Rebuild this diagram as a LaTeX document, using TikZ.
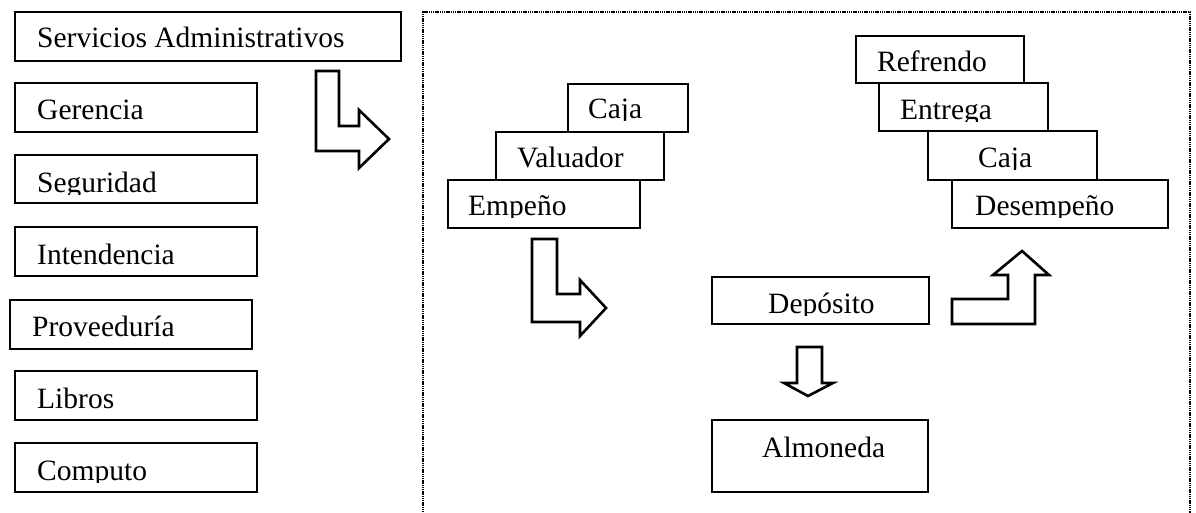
\documentclass[tikz,border=0pt]{standalone}
\usepackage{fontspec}
\setmainfont{Liberation Serif}
\usetikzlibrary{fit}

% box with its label cut off just below the baseline
\newcommand{\cajatexto}[8]{%
    \node[caja, fit={(#2,#3) (#4,#5)}] (#1) {};
    \begin{scope}
        \clip (#2,#3) rectangle ({#4},{#7+2});
        \node[rotulo] at (#6,#7) {#8};
    \end{scope}
}

\begin{document}
\begin{tikzpicture}[x=1pt, y=-1pt,
        caja/.style={draw, fill=white, line width=2.6pt, inner sep=0pt, outer sep=0pt},
        rotulo/.style={anchor=base west, inner sep=0pt, font=\fontsize{29.5}{30}\selectfont},
        flecha/.style={draw, line width=2.6pt, line join=miter},
        marco/.style={line width=2pt, dash pattern=on 1.4pt off 0.8pt}]
    \useasboundingbox (0,0) rectangle (1196,513);

    % left column
    \cajatexto{serv}{15}{12}{401}{61}{37}{48}{Servicios Administrativos}
    \cajatexto{ger}{15}{83}{257}{132}{37}{120}{Gerencia}
    \cajatexto{seg}{15}{155}{257}{203}{37}{193}{Seguridad}
    \cajatexto{inten}{15}{227}{257}{276}{37}{264}{Intendencia}
    \cajatexto{prov}{10}{300}{252}{349}{32}{336}{Proveeduría}
    \cajatexto{lib}{15}{371}{257}{420}{37}{408}{Libros}
    \cajatexto{comp}{15}{443}{257}{492}{37}{480}{Computo}

    \path[flecha] (316,71) -- (339,71) -- (339,126) -- (359,126) -- (359,110) -- (389,139)
        -- (359,168) -- (359,151) -- (316,151) -- cycle;

    % dotted frame, open at the bottom
    \draw[marco] (423,530) -- (423,12) -- (1190,12) -- (1190,530);

    % empeño
    \cajatexto{cajaA}{568}{84}{688}{132}{588}{119}{Caja}
    \cajatexto{valuador}{496}{132}{664}{180}{517}{168}{Valuador}
    \cajatexto{empeno}{448}{180}{640}{228}{468}{215}{Empeño}

    % desempeño
    \cajatexto{refrendo}{856}{36}{1024}{83}{877}{72}{Refrendo}
    \cajatexto{entrega}{879}{83}{1048}{131}{900}{120}{Entrega}
    \cajatexto{cajaB}{928}{131}{1097}{180}{978}{168}{Caja}
    \cajatexto{desempeno}{952}{180}{1168}{228}{975}{215}{Desempeño}

    \path[flecha] (532,239) -- (557,239) -- (557,294) -- (580,294) -- (580,280) -- (606,308)
        -- (580,336) -- (580,322) -- (532,322) -- cycle;

    \cajatexto{deposito}{712}{277}{929}{324}{768}{313}{Depósito}
    \path[flecha] (797,347) -- (822,347) -- (822,383) -- (833,383) -- (808,396) -- (784,383)
        -- (797,383) -- cycle;
    \cajatexto{almoneda}{712}{420}{928}{492}{762}{457}{Almoneda}

    \path[flecha] (952,324) -- (1035,324) -- (1035,275) -- (1049,275) -- (1022,251) -- (993,275)
        -- (1008,275) -- (1008,299) -- (952,299) -- cycle;
\end{tikzpicture}
\end{document}
